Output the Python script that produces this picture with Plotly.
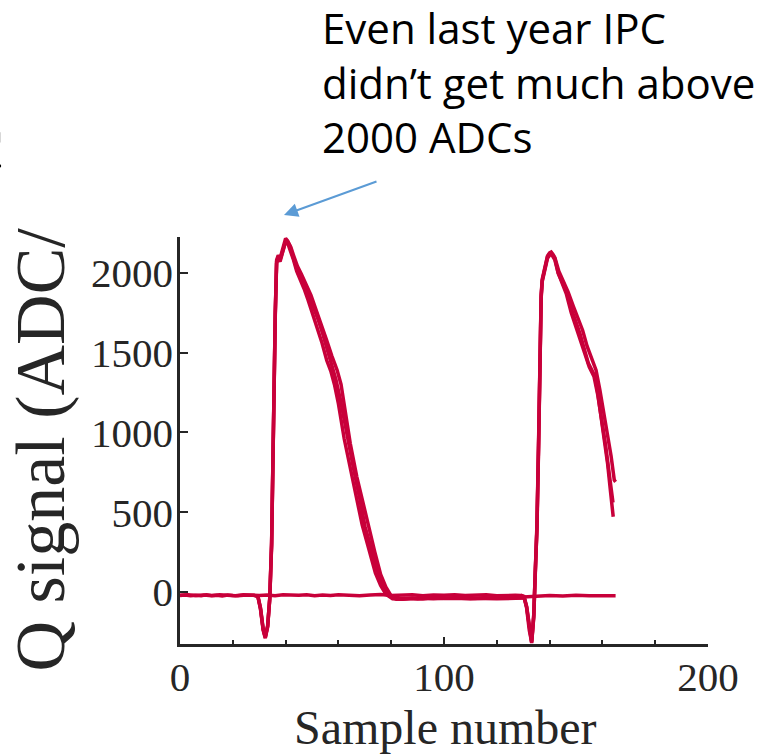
import plotly.graph_objects as go

# ---------------- data ----------------
# pulse near sample 35 (three overlapping waveforms)
a1_x = [0, 2, 4, 6, 8, 10, 12, 14, 16, 18, 20, 22, 24, 26, 28, 29.5, 30.5, 31.5, 32.3, 33.2, 34.0, 34.7,
        35.2, 35.6, 36.1, 36.6, 37.2, 37.9, 38.6, 39.3, 40.0, 40.8, 41.6, 42.4, 43.7, 44.8, 46.0, 47.5,
        49.0, 50.5, 52.4, 54.2, 56.2, 57.8, 59.1, 60.8, 63.1, 65.6, 68.2, 70.1, 72.6, 75.1, 77.0, 78.9,
        81, 84, 88, 92, 96, 100, 105, 110, 115, 120, 125, 130, 135, 140, 145, 150, 155, 160, 165]
a1_y = [-22, -19, -24, -20, -23, -18, -22, -20, -25, -19, -22, -24, -20, -23, -21, -30, -110, -240, -290, -220, -40, 300,
        900, 1400, 1750, 2080, 2110, 2090, 2130, 2180, 2215, 2200, 2170, 2121, 2058, 1996, 1960, 1912,
        1850, 1790, 1703, 1610, 1495, 1410, 1328, 1202, 994, 785, 576, 409, 263, 117, 33, -19,
        -40, -45, -38, -42, -36, -40, -38, -42, -37, -40, -36, -30, -24, -22, -25, -20, -23, -21, -24]

a2_x = [29.5, 30.5, 31.5, 32.3, 33.2, 34.0, 34.7, 35.2, 35.6, 36.1, 36.6, 37.2, 37.9, 38.6, 39.3, 40.2, 41.0,
        42.0, 43.0, 44.5, 46.0, 47.8, 49.6, 51.5, 53.5, 55.5, 57.5, 59.5, 61.0, 62.5, 64.5, 67.0, 69.5,
        71.5, 73.8, 76.0, 78.0, 80.0, 82.0, 85, 90, 95, 100, 110, 120, 130]
a2_y = [-28, -100, -230, -285, -215, -35, 310, 920, 1420, 1760, 2070, 2100, 2080, 2120, 2170, 2205, 2190,
        2160, 2110, 2040, 1990, 1930, 1860, 1770, 1680, 1580, 1480, 1390, 1300, 1130, 930, 720, 540,
        400, 250, 110, 30, -25, -45, -40, -44, -38, -41, -39, -43, -38]

a3_x = [29.5, 30.5, 31.5, 32.3, 33.2, 34.0, 34.7, 35.2, 35.6, 36.1, 36.6, 37.2, 37.9, 38.6, 39.3, 40.0, 40.8,
        41.8, 43.0, 44.2, 45.5, 47.0, 48.5, 50.3, 52.0, 53.8, 55.6, 57.2, 58.5, 60.0, 62.2, 64.6, 67.0,
        69.0, 71.5, 74.0, 76.0, 78.0, 80.5, 84, 90, 96, 104, 112, 120, 130]
a3_y = [-25, -105, -235, -280, -210, -45, 290, 880, 1390, 1740, 2060, 2090, 2070, 2110, 2160, 2195, 2185,
        2140, 2080, 2010, 1960, 1900, 1830, 1740, 1660, 1560, 1450, 1380, 1300, 1180, 960, 760, 560,
        420, 270, 120, 40, -15, -42, -46, -40, -43, -37, -41, -38, -36]

# pulse near sample 135 (three overlapping waveforms)
b1_x = [0, 3, 6, 9, 12, 15, 18, 21, 24, 27, 30, 33, 36, 39, 42, 45, 48, 51, 54, 57, 60, 64, 68, 72, 76,
        80, 84, 88, 92, 96, 100, 104, 108, 112, 116, 120, 124, 127, 129, 130.3, 131.3, 132.3, 133.2,
        134.0, 134.6, 135.2, 135.8, 136.3, 136.8, 137.2, 137.8, 138.5, 139.2, 140.0, 140.6, 141.3,
        142.0, 143.3, 145.0, 146.5, 148.4, 150.0, 151.5, 153.0, 154.7, 156.0, 157.2, 158.2, 159.1,
        160.0, 161.0, 162.0, 163.0, 164.1]
b1_y = [-20, -17, -22, -19, -24, -18, -21, -23, -17, -20, -22, -19, -24, -18, -21, -20, -17, -23, -19, -22, -18, -21, -24, -19, -16,
        -22, -20, -18, -23, -19, -21, -17, -22, -20, -18, -23, -19, -21, -22, -30, -95, -235, -320,
        -150, 150, 400, 900, 1500, 1850, 1950, 2000, 2060, 2100, 2120, 2125, 2110,
        2090, 1996, 1930, 1880, 1766, 1690, 1620, 1530, 1432, 1390, 1348, 1250, 1140,
        1040, 931, 800, 640, 471]

b2_x = [129, 130.3, 131.3, 132.3, 133.2, 134.0, 134.6, 135.2, 135.8, 136.3, 136.8, 137.2, 137.8, 138.5,
        139.2, 140.0, 140.6, 141.3, 142.0, 143.5, 145.3, 147.0, 149.0, 150.8, 152.5, 154.2, 156.0,
        157.6, 159.0, 160.5, 162.0, 163.3, 164.5, 165.0]
b2_y = [-20, -28, -90, -225, -310, -140, 160, 420, 920, 1510, 1860, 1960, 2010, 2070,
        2105, 2125, 2130, 2115, 2095, 2010, 1945, 1880, 1790, 1710, 1640, 1540, 1460,
        1390, 1270, 1130, 980, 850, 701, 690]

b3_x = [129, 130.3, 131.3, 132.3, 133.2, 134.0, 134.6, 135.2, 135.8, 136.3, 136.8, 137.2, 137.8, 138.5,
        139.2, 140.0, 140.6, 141.3, 142.0, 143.2, 144.8, 146.3, 148.2, 150.0, 151.6, 153.2, 155.0,
        156.8, 158.3, 159.8, 161.2, 162.6, 164.0]
b3_y = [-22, -32, -100, -240, -315, -160, 140, 390, 880, 1480, 1840, 1945, 1995, 2050,
        2090, 2110, 2118, 2100, 2080, 2000, 1935, 1870, 1750, 1665, 1590, 1500, 1410,
        1350, 1230, 1080, 920, 740, 560]

x_ticks = [0, 100, 200]
y_ticks = [0, 500, 1000, 1500, 2000]

note_text = "Even last year IPC<br>didn\u2019t get much above<br>2000 ADCs"
x_title = "Sample number"
y_title = "Q signal (ADC/sample)"

# ---------------- figure ----------------
RED = "#C8003A"
AX = "#262626"
SERIF = "Liberation Serif, Times New Roman, serif"

W, H = 784, 756
L, R, T, B = 180, 76, 237, 112
PW, PH = W - L - R, H - T - B


def px(xp):
    return (xp - L) / PW


def py(yp):
    return (H - B - yp) / PH


fig = go.Figure()
for xs, ys in [(a1_x, a1_y), (a2_x, a2_y), (a3_x, a3_y), (b1_x, b1_y), (b2_x, b2_y), (b3_x, b3_y)]:
    fig.add_trace(go.Scatter(x=xs, y=ys, mode="lines",
                             line=dict(color=RED, width=3.5), showlegend=False,
                             hoverinfo="skip"))

fig.update_layout(
    width=W, height=H,
    margin=dict(l=L, r=R, t=T, b=B, pad=0),
    paper_bgcolor="white", plot_bgcolor="white",
    showlegend=False,
    xaxis=dict(range=[0, 200], tickvals=x_ticks, ticks="inside", ticklen=7, tickwidth=2,
               tickcolor=AX, showline=True, linecolor=AX, linewidth=2.5, showgrid=False,
               zeroline=False, mirror=False, ticklabelstandoff=-5,
               tickfont=dict(family=SERIF, size=41, color=AX),
               minor=dict(dtick=20, ticks="inside", ticklen=4, tickwidth=1.5, tickcolor=AX,
                          showgrid=False),
               fixedrange=True),
    yaxis=dict(range=[-326, 2224], tickvals=y_ticks, ticks="inside", ticklen=8, tickwidth=2,
               tickcolor=AX, showline=True, linecolor=AX, linewidth=2.5, showgrid=False,
               zeroline=False, mirror=False, ticklabelstandoff=-4,
               tickfont=dict(family=SERIF, size=41, color=AX),
               fixedrange=True),
)

annotations = [
    # x axis title
    dict(text=x_title, xref="paper", yref="paper", x=px(445), y=py(756), xanchor="center",
         yanchor="bottom", showarrow=False, font=dict(family=SERIF, size=48, color=AX)),
    # y axis title (partly hidden by the text box above it)
    dict(text=y_title, xref="paper", yref="paper", x=px(40), y=py(674), xanchor="center",
         yanchor="bottom", textangle=-90, showarrow=False,
         font=dict(family=SERIF, size=70, color=AX)),
    # white text box covering the top of the picture
    dict(text=" ", xref="paper", yref="paper", x=px(9), y=py(0), xanchor="left", yanchor="top",
         width=775, height=227, bgcolor="white", borderpad=0, borderwidth=0, showarrow=False),
    # clipped glyph at the left edge
    dict(text="c", xref="paper", yref="paper", x=px(6), y=py(188), xanchor="right",
         yanchor="bottom", showarrow=False, font=dict(family=SERIF, size=80, color="black")),
    # note
    dict(text=note_text, xref="paper", yref="paper", x=px(320), y=py(-3), xanchor="left",
         yanchor="top", align="left", showarrow=False,
         font=dict(family="Open Sans, Lato, sans-serif", size=42, color="black")),
    # arrow
    dict(text="", xref="paper", yref="paper", x=px(284), y=py(215), ax=378 - 284, ay=181 - 215,
         axref="pixel", ayref="pixel", showarrow=True, arrowhead=2, arrowsize=1.4,
         arrowwidth=2, arrowcolor="#5B9BD5", standoff=0),
]
fig.update_layout(annotations=annotations)

fig.write_html("out.html", config={"displayModeBar": False})
